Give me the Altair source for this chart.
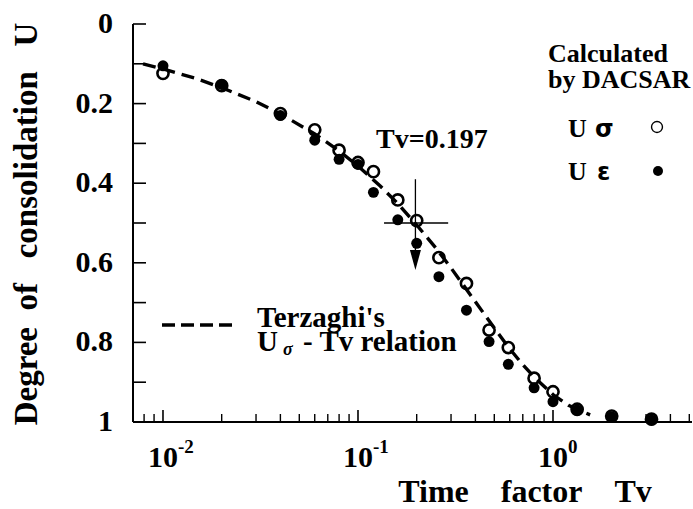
import altair as alt
import pandas as pd

# ---- DACSAR results: degree of consolidation vs. time factor ----
tv_points = [0.01, 0.02, 0.04, 0.06, 0.08, 0.10, 0.12, 0.16, 0.20, 0.26,
             0.36, 0.47, 0.59, 0.80, 1.00, 1.33, 2.00, 3.20]
u_sigma = [0.124, 0.155, 0.225, 0.266, 0.317, 0.348, 0.371, 0.442, 0.494, 0.587,
           0.652, 0.769, 0.813, 0.890, 0.924, 0.968, 0.985, 0.993]
u_eps = [0.105, 0.152, 0.230, 0.292, 0.340, 0.353, 0.423, 0.492, 0.551, 0.635,
         0.719, 0.798, 0.855, 0.914, 0.949, 0.970, 0.987, 0.995]

# ---- Terzaghi's U-Tv relation ----
tv_curve = [0.0079, 0.01, 0.015, 0.02, 0.03, 0.04, 0.06, 0.08, 0.10, 0.13, 0.16,
            0.20, 0.25, 0.30, 0.40, 0.50, 0.60, 0.70, 0.80, 1.00, 1.20, 1.55]
u_curve = [0.100, 0.113, 0.138, 0.160, 0.195, 0.226, 0.276, 0.319, 0.357, 0.407, 0.451,
           0.505, 0.562, 0.613, 0.698, 0.764, 0.816, 0.856, 0.887, 0.931, 0.958, 0.982]

# ---- marker at Tv = 0.197, U = 0.5 ----
tv_mark = 0.197
u_mark = 0.5
cross_h = [0.136, 0.290]     # horizontal bar extent (Tv)
cross_v = [0.39, 0.578]      # vertical bar extent (U)
arrow_u = 0.593

# ---- axis ticks and labels ----
y_ticks = [0.0, 0.1, 0.2, 0.3, 0.4, 0.5, 0.6, 0.7, 0.8, 0.9, 1.0]
y_label_vals = [0.0, 0.2, 0.4, 0.6, 0.8, 1.0]
y_label_text = ["0", "0.2", "0.4", "0.6", "0.8", "1"]
x_major = [0.01, 0.1, 1.0]
x_exponents = ["-2", "-1", "0"]
x_minor = [0.008, 0.009,
           0.02, 0.03, 0.04, 0.05, 0.06, 0.07, 0.08, 0.09,
           0.2, 0.3, 0.4, 0.5, 0.6, 0.7, 0.8, 0.9,
           2.0, 3.0, 4.0, 5.0]

FONT = "Liberation Serif"
W, H = 559, 398

xs = alt.Scale(type="log", domain=[0.007018, 5.162])
ys = alt.Scale(domain=[0, 1], reverse=True)

pts = pd.DataFrame({"tv": tv_points, "us": u_sigma, "ue": u_eps})
curve_df = pd.DataFrame({"tv": tv_curve, "u": u_curve})

X = lambda f: alt.X(f, type="quantitative", scale=xs, axis=None)
Y = lambda f: alt.Y(f, type="quantitative", scale=ys, axis=None)

curve = alt.Chart(curve_df).mark_line(
    color="black", strokeWidth=3.4, strokeDash=[13, 7]
).encode(x=X("tv"), y=Y("u"))

open_pts = alt.Chart(pts).mark_point(
    shape="circle", filled=False, color="black", size=125, strokeWidth=2.6, opacity=1
).encode(x=X("tv"), y=Y("us"))

filled_pts = alt.Chart(pts).mark_circle(
    color="black", size=120, opacity=1
).encode(x=X("tv"), y=Y("ue"))

# crosshair at Tv = 0.197
hbar = alt.Chart(pd.DataFrame({"a": [cross_h[0]], "b": [cross_h[1]], "u": [u_mark]})).mark_rule(
    color="black", strokeWidth=1.3
).encode(x=X("a"), x2="b", y=Y("u"))
vbar = alt.Chart(pd.DataFrame({"t": [tv_mark], "a": [cross_v[0]], "b": [cross_v[1]]})).mark_rule(
    color="black", strokeWidth=1.3
).encode(x=X("t"), y=Y("a"), y2="b")
arrow = alt.Chart(pd.DataFrame({"t": [tv_mark], "u": [arrow_u]})).mark_point(
    shape="M-0.55,-1L0.55,-1L0,1Z", filled=True, color="black", size=400, opacity=1
).encode(x=X("t"), y=Y("u"))

# axis lines
left_axis = alt.Chart(pd.DataFrame({"k": [0]})).mark_rule(color="black", strokeWidth=2).encode(
    x=alt.value(0), y=alt.value(0), y2=alt.value(H))
bottom_axis = alt.Chart(pd.DataFrame({"k": [0]})).mark_rule(color="black", strokeWidth=2).encode(
    x=alt.value(0), x2=alt.value(W), y=alt.value(H))

# inward ticks
yt = alt.Chart(pd.DataFrame({"u": y_ticks})).mark_rule(color="black", strokeWidth=1.6).encode(
    y=Y("u"), x=alt.value(0), x2=alt.value(13))
xt_major = alt.Chart(pd.DataFrame({"t": x_major})).mark_rule(color="black", strokeWidth=1.6).encode(
    x=X("t"), y=alt.value(H), y2=alt.value(H - 12))
xt_minor = alt.Chart(pd.DataFrame({"t": x_minor})).mark_rule(color="black", strokeWidth=1.4).encode(
    x=X("t"), y=alt.value(H), y2=alt.value(H - 8))

# tick labels
ylab = alt.Chart(pd.DataFrame({"u": y_label_vals, "s": y_label_text})).mark_text(
    font=FONT, fontWeight="bold", fontSize=30, align="right", baseline="middle", color="black"
).encode(y=Y("u"), x=alt.value(-20), text="s:N")
xlab_base = alt.Chart(pd.DataFrame({"t": x_major, "s": ["10"] * 3})).mark_text(
    font=FONT, fontWeight="bold", fontSize=30, align="center", baseline="alphabetic", color="black"
).encode(x=X("t"), y=alt.value(443), text="s:N")
xlab_exp = alt.Chart(pd.DataFrame({"t": x_major, "s": x_exponents})).mark_text(
    font=FONT, fontWeight="bold", fontSize=19, align="left", baseline="alphabetic", color="black", dx=15
).encode(x=X("t"), y=alt.value(429), text="s:N")


def label(txt, x, y, size, align="left", baseline="alphabetic", angle=0, font=FONT, style="normal"):
    return alt.Chart(pd.DataFrame({"s": [txt]})).mark_text(
        font=font, fontWeight="bold", fontSize=size, align=align, baseline=baseline,
        angle=angle, color="black", fontStyle=style
    ).encode(x=alt.value(x), y=alt.value(y), text="s:N")


nb = "\u00a0"
x_title = label("Time" + nb * 4 + "factor" + nb * 4 + "Tv", 392, 478, 32, align="center")
y_title = label("Degree" + nb * 2 + "of" + nb * 3 + "consolidation" + nb * 3 + "U",
                -106, 200, 33, align="center", baseline="middle", angle=270)

tv_note = label("Tv=0.197", 243, 124, 28)

calc1 = label("Calculated", 415, 38, 26)
calc2 = label("by DACSAR", 415, 64, 26)
leg_us = label("U", 435, 113, 26)
leg_sig = label("σ", 462, 113, 24, font="DejaVu Sans")
leg_ue = label("U", 435, 156, 26)
leg_eps = label("ε", 464, 156, 24, font="DejaVu Sans")
leg_open = alt.Chart(pd.DataFrame({"k": [0]})).mark_point(
    shape="circle", filled=False, color="black", size=120, strokeWidth=1.4, opacity=1
).encode(x=alt.value(524), y=alt.value(103))
leg_fill = alt.Chart(pd.DataFrame({"k": [0]})).mark_circle(
    color="black", size=100, opacity=1
).encode(x=alt.value(525), y=alt.value(147))

leg_dash = alt.Chart(pd.DataFrame({"k": [0]})).mark_rule(
    color="black", strokeWidth=3.6, strokeDash=[13, 6]
).encode(x=alt.value(29), x2=alt.value(99), y=alt.value(301))
terz1 = label("Terzaghi's", 124, 303, 29)
terz_u = label("U", 124, 327, 29)
terz_sig = label("σ", 150, 331, 18, style="italic")
terz_rest = label("- Tv relation", 170, 327, 29)

chart = alt.layer(
    curve, open_pts, filled_pts, hbar, vbar, arrow,
    left_axis, bottom_axis, yt, xt_major, xt_minor,
    ylab, xlab_base, xlab_exp, x_title, y_title, tv_note,
    calc1, calc2, leg_us, leg_sig, leg_ue, leg_eps, leg_open, leg_fill,
    leg_dash, terz1, terz_u, terz_sig, terz_rest
).properties(
    width=W, height=H,
    autosize=alt.AutoSizeParams(type="none"),
    padding={"left": 133, "top": 24, "right": 1, "bottom": 87},
    background="white"
).configure_view(stroke=None)

chart.save("out.html", embed_options={"renderer": "svg", "actions": False})
